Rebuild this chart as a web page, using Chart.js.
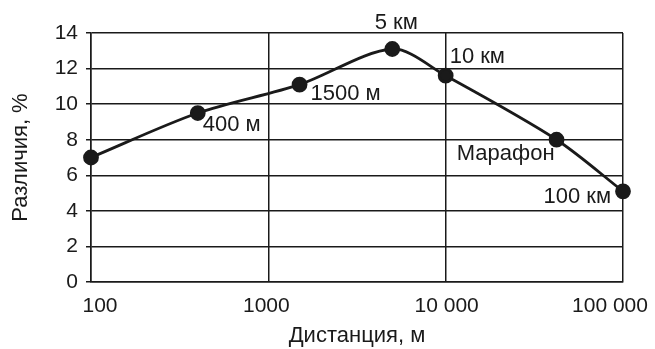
<!DOCTYPE html>
<html>
<head>
<meta charset="utf-8">
<script src="https://cdn.jsdelivr.net/npm/chart.js@4"></script>
<style>
  html, body { margin: 0; padding: 0; background: #fff; }
  #wrap { width: 655px; height: 349px; }
</style>
</head>
<body>
<div id="wrap"><canvas id="chart"></canvas></div>
<script>
// distance in metres vs difference in %
var distances = [100, 400, 1500, 5000, 10000, 42195, 100000];
var differences = [7.0, 9.5, 11.1, 13.1, 11.6, 8.0, 5.1];
var pointNames = ['', '400 м', '1500 м', '5 км', '10 км', 'Марафон', '100 км'];
var xTicks = [100, 1000, 10000, 100000];
var xTickLabels = ['100', '1000', '10 000', '100 000'];

// where each name sits relative to its dot: [dx, dy, align]
var namePlacement = [
  [0, 0, 'left'],
  [5, 12, 'left'],
  [11, 9, 'left'],
  [4, -26, 'center'],
  [4, -19, 'left'],
  [-2, 14, 'right'],
  [-12, 6, 'right']
];
// edge labels of the x axis are pulled inwards a little
var xLabelNudge = [9, -2, 1, -13];

var FONT = '"Liberation Sans", Arial, Helvetica, sans-serif';
var INK = '#1a1a1a';

var pointNamesPlugin = {
  id: 'pointNames',
  afterDatasetsDraw: function(chart) {
    var ctx = chart.ctx;
    var meta = chart.getDatasetMeta(0);
    ctx.save();
    ctx.font = '22px ' + FONT;
    ctx.fillStyle = INK;
    ctx.textBaseline = 'middle';
    meta.data.forEach(function(pt, i) {
      if (!pointNames[i]) return;
      var p = namePlacement[i];
      ctx.textAlign = p[2];
      ctx.fillText(pointNames[i], pt.x + p[0], pt.y + p[1]);
    });
    ctx.restore();
  }
};

// x tick labels, placed at the scale's own tick positions
var xLabelsPlugin = {
  id: 'xLabels',
  afterDraw: function(chart) {
    var ctx = chart.ctx;
    var sx = chart.scales.x;
    ctx.save();
    ctx.font = '21px ' + FONT;
    ctx.fillStyle = INK;
    ctx.textAlign = 'center';
    ctx.textBaseline = 'middle';
    xTicks.forEach(function(v, i) {
      ctx.fillText(xTickLabels[i], sx.getPixelForValue(v) + xLabelNudge[i], sx.top + 24);
    });
    ctx.restore();
  }
};

var data = {
  datasets: [{
    data: distances.map(function(d, i) { return { x: d, y: differences[i] }; }),
    borderColor: INK,
    backgroundColor: INK,
    borderWidth: 2.8,
    pointRadius: 6.5,
    pointHoverRadius: 6.5,
    pointBackgroundColor: INK,
    pointBorderColor: INK,
    tension: 0.3,
    clip: false,
    fill: false
  }]
};

new Chart(document.getElementById('chart'), {
  type: 'line',
  data: data,
  plugins: [pointNamesPlugin, xLabelsPlugin],
  options: {
    responsive: true,
    maintainAspectRatio: false,
    animation: false,
    events: [],
    layout: { padding: { top: 33, right: 32, left: 0, bottom: 0 } },
    plugins: { legend: { display: false }, tooltip: { enabled: false } },
    scales: {
      x: {
        type: 'logarithmic',
        min: 100,
        max: 100000,
        afterBuildTicks: function(scale) {
          scale.ticks = xTicks.map(function(v) { return { value: v }; });
        },
        afterFit: function(scale) {
          scale.height = 67;
          scale.paddingLeft = 0;
          scale.paddingRight = 0;
        },
        grid: { color: INK, lineWidth: 1.5, drawTicks: false },
        border: { color: INK, width: 1.5 },
        ticks: { display: false, autoSkip: false },
        title: {
          display: true,
          text: 'Дистанция, м',
          color: INK,
          font: { family: FONT, size: 22 },
          padding: { top: 12, bottom: 0 }
        }
      },
      y: {
        min: 0,
        max: 14,
        afterFit: function(scale) { scale.width = 91; },
        grid: { color: INK, lineWidth: 1.5, tickLength: 5 },
        border: { color: INK, width: 1.5 },
        ticks: {
          stepSize: 2,
          color: INK,
          font: { family: FONT, size: 21 },
          padding: 8
        },
        title: {
          display: true,
          text: 'Различия, %',
          color: INK,
          font: { family: FONT, size: 22 },
          padding: { top: 8, bottom: 0 }
        }
      }
    }
  }
});
</script>
</body>
</html>
